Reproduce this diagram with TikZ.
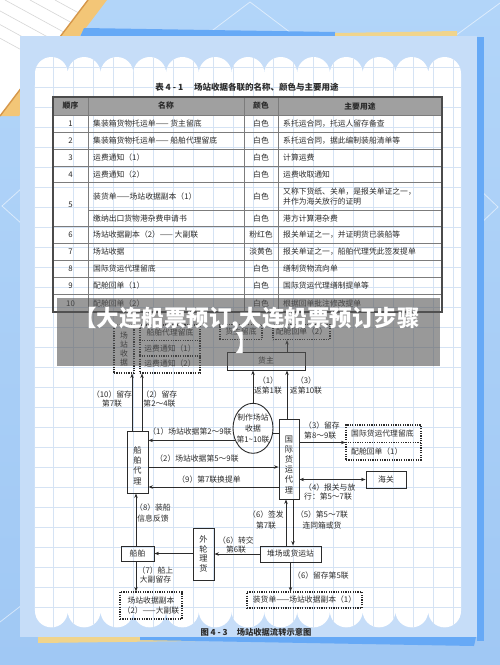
\documentclass[tikz,border=0pt]{standalone}
\usepackage{fontspec}
\setmainfont{Noto Sans CJK SC}
\usetikzlibrary{arrows.meta,shapes.geometric}
\definecolor{bgA}{HTML}{B2D5F9}
\definecolor{bgB}{HTML}{A0C8F4}
\definecolor{panelc}{HTML}{C6DDF8}
\definecolor{edgeblue}{HTML}{66A9F6}
\definecolor{orangeA}{HTML}{F3C677}
\definecolor{orangeB}{HTML}{D6974A}
\definecolor{sandy}{HTML}{F0D48C}
\definecolor{gridc}{HTML}{D5E3F4}
\definecolor{ink}{HTML}{2B2B2B}
\definecolor{rulec}{HTML}{7C7C7C}
\definecolor{headg}{HTML}{A0A0A0}
\definecolor{bannerc}{HTML}{555555}
\tikzset{
  tt/.style={inner sep=0pt, text=ink, font=\fontsize{7.8}{10}\selectfont},
  th/.style={inner sep=0pt, text=ink, font=\fontsize{7.8}{10}\selectfont\bfseries},
  lab/.style={inner sep=0pt, text=ink, align=center, font=\fontsize{7.8}{#1}\selectfont},
  lab/.default=10,
  sbox/.style={draw=ink, line width=0.9pt, inner sep=0pt, text=ink, align=center, font=\fontsize{7.8}{10}\selectfont},
  dbox/.style={draw=ink, line width=1.1pt, dash pattern=on 1.2pt off 1.2pt, inner sep=0pt, text=ink, align=center, font=\fontsize{7.8}{10}\selectfont},
  dline/.style={draw=ink, line width=1.1pt, dash pattern=on 1.2pt off 1.2pt},
  arr/.style={draw=ink, line width=0.75pt, -{Stealth[length=4.5pt,width=3.4pt]}},
  darr/.style={draw=ink, line width=0.75pt, {Stealth[length=4.5pt,width=3.4pt]}-{Stealth[length=4.5pt,width=3.4pt]}},
  conn/.style={draw=ink, line width=0.75pt},
  faint/.style={draw=white, opacity=0.55, line width=0.8pt},
}
\begin{document}
\begin{tikzpicture}[x=1pt,y=-1pt]
\useasboundingbox (0,0) rectangle (500,665);
% ---------- page background ----------
\shade[top color=bgA, bottom color=bgB] (0,0) rectangle (500,665);
\draw[faint] (205,36) -- (250,2) -- (295,36);
\draw[faint] (455,36) -- (500,3);
\draw[faint] (22,188) -- (2,206) -- (22,224);
\draw[faint] (478,188) -- (498,207) -- (478,226);
\draw[faint] (0,622) -- (22,605);
\fill[white] (0,0) -- (88,0) -- (0,116) -- cycle;
\begin{scope}
  \clip (0,0) -- (88,0) -- (0,116) -- cycle;
  \foreach \s in {-70,-45,...,60} \draw[black!16, line width=0.6pt] (\s,0) -- ++(130,71);
\end{scope}
\fill[orangeA] (88,0) -- (107,0) -- (19,116) -- (0,116) -- cycle;
\draw[orangeB, line width=1.4pt] (88,0) -- (0,116);
\fill[edgeblue] (84,28) -- (335,32) -- (335,37) -- (80,37) -- cycle;
\fill[sandy] (335,33) -- (457,31) -- (457,37) -- (335,37) -- cycle;
% ---------- panel ----------
\fill[panelc] (20,36) rectangle (477,637);
\fill[edgeblue] (477,37) rectangle (484,641);
\fill[sandy] (38,637) -- (235,637) -- (235,640.5) -- (38,643) -- cycle;
\fill[edgeblue] (140,637) -- (476,637) -- (474,646) -- (140,640) -- cycle;
% ---------- scalloped white sheet ----------
\fill[white] (35,73.4) foreach \i in {1,...,13} {arc[start angle=180,end angle=360,radius=16.385]}
  -- (461,611) foreach \i in {1,...,13} {arc[start angle=0,end angle=180,radius=16.385]} -- cycle;
\begin{scope}
  \clip (35,73.4) foreach \i in {1,...,13} {arc[start angle=180,end angle=360,radius=16.385]}
    -- (461,611) foreach \i in {1,...,13} {arc[start angle=0,end angle=180,radius=16.385]} -- cycle;
  \foreach \x in {33,53,...,453} \draw[gridc, line width=0.7pt] (\x,50) -- (\x,630);
  \foreach \y in {67,87,...,627} \draw[gridc, line width=0.7pt] (30,\y) -- (466,\y);
\end{scope}
% ---------- table ----------
\node[inner sep=0pt, text=ink, font=\fontsize{8.5}{10}\selectfont\bfseries] (tabtitle) at (247,87) {表 4 - 1\hspace{11pt}场站收据各联的名称、颜色与主要用途};
\fill[headg] (53,97) rectangle (442,115);
\foreach \y in {115,132,149,166.7,182.5,226.7,243.3,260,277.3,294.3}
  \draw[rulec, line width=0.6pt] (53,\y) -- (442,\y);
\draw[rulec, line width=0.6pt] (88,210.7) -- (442,210.7);
\foreach \x in {88,244,278} \draw[rulec, line width=0.6pt] (\x,97) -- (\x,312);
\draw[ink!85, line width=1.1pt] (53,97) rectangle (442,312);
\node[th] (h1) at (70.5,106) {顺序};
\node[th] (h2) at (166,106) {名称};
\node[th] (h3) at (261,106) {颜色};
\node[th] (h4) at (360,106) {主要用途};
\foreach \n/\y/\a/\c/\u [count=\k] in {
  1/123.3/{集装箱货物托运单—— 货主留底}/白色/{系托运合同，托运人留存备查},
  2/140.3/{集装箱货物托运单—— 船舶代理留底}/白色/{系托运合同，据此编制装船清单等},
  3/157.8/{运费通知（1）}/白色/{计算运费},
  4/174.8/{运费通知（2）}/白色/{运费收取通知},
  6/235/{场站收据副本（2）—— 大副联}/粉红色/{报关单证之一，并证明货已装船等},
  7/251.7/{场站收据}/淡黄色/{报关单证之一，船舶代理凭此签发提单},
  8/268.8/{国际货运代理留底}/白色/{缮制货物流向单},
  9/286/{配舱回单（1）}/白色/{国际货运代理缮制提单等},
  10/303.3/{配舱回单（2）}/白色/{根据回单批注修改提单}} {
  \node[tt] (num\k) at (70.5,\y) {\n};
  \node[tt, anchor=west] (nam\k) at (93,\y) {\a};
  \node[tt] (col\k) at (261,\y) {\c};
  \node[tt, anchor=west] (use\k) at (283,\y) {\u};
}
\node[tt] (num5) at (70.5,205) {5};
\node[tt, anchor=west] (nam5a) at (93,196.6) {装货单——场站收据副本（1）};
\node[tt] (col5a) at (261,196.6) {白色};
\node[tt, anchor=west, align=left] (use5a) at (283,196.6) {又称下货纸、关单，是报关单证之一，\\并作为海关放行的证明};
\node[tt, anchor=west] (nam5b) at (93,218.6) {缴纳出口货物港杂费申请书};
\node[tt] (col5b) at (261,218.6) {白色};
\node[tt, anchor=west] (use5b) at (283,218.6) {港方计算港杂费};
% ---------- flow chart ----------
\node[dbox, minimum width=20pt, minimum height=48pt, font=\fontsize{7.8}{9}\selectfont] (csv) at (124,349) {场\\站\\收\\据};
\node[dbox, minimum width=60pt, minimum height=48pt] (stk) at (170,349) {};
\draw[dline] (stk.west |- 0,340.5) -- (stk.east |- 0,340.5);
\draw[dline] (stk.west |- 0,356) -- (stk.east |- 0,356);
\node[lab] (stk1) at (170,332.5) {船舶代理留底};
\node[lab] (stk2) at (170,348.3) {运费通知（1）};
\node[lab] (stk3) at (170,363.8) {运费通知（2）};
\node[dbox, minimum width=42pt, minimum height=15pt] (hzld) at (241,332) {货主留底};
\node[dbox, minimum width=57pt, minimum height=15pt] (pc2) at (301.5,332) {配舱回单（2）};
\node[sbox, minimum width=78pt, minimum height=18pt] (hz) at (266,361) {货主};

\node[draw=ink, line width=0.9pt, ellipse, minimum width=40pt, minimum height=50pt, inner sep=0pt] (ell) at (253,428.3) {};
\node[lab=11, font=\fontsize{7.8}{11}\selectfont] (ellt) at (ell.center) {制作场站\\收据\\第1\textasciitilde10联};

\node[sbox, minimum width=21pt, minimum height=62pt] (cb) at (137.5,462) {};
\node[lab=10.3, font=\fontsize{8.2}{10.3}\selectfont] (cbt) at (137.5,465.5) {船\\舶\\代\\理};
\node[sbox, minimum width=20pt, minimum height=80pt] (gj) at (289,459) {};
\node[lab=10.2, font=\fontsize{8.2}{10.2}\selectfont] (gjt) at (289,464.5) {国\\际\\货\\运\\代\\理};
\node[dbox, minimum width=75pt, minimum height=35pt] (gjld) at (383.5,442.5) {};
\draw[dline] (gjld.west) -- (gjld.east);
\node[lab, anchor=west] (gjld1) at (351,434) {国际货运代理留底};
\node[lab, anchor=west] (gjld2) at (351,451.5) {配舱回单（1）};
\node[sbox, minimum width=40pt, minimum height=17pt] (hg) at (386,479.5) {海关};
\node[sbox, minimum width=61pt, minimum height=16pt] (dc) at (290.5,554) {堆场或货运站};
\node[sbox, minimum width=21pt, minimum height=52pt, font=\fontsize{8.2}{9.5}\selectfont] (wl) at (203.5,554) {外\\轮\\理\\货};
\node[sbox, minimum width=33pt, minimum height=15pt] (cbs) at (137.5,553.5) {船舶};
\node[dbox, minimum width=62pt, minimum height=27pt, font=\fontsize{7.8}{10}\selectfont] (dfl) at (151,605.5) {场站收据副本\\（2）——大副联};
\node[dbox, minimum width=115pt, minimum height=16pt] (zhd) at (304.5,600) {装货单——场站收据副本（1）};

% connectors
\draw[arr] (cb.north -| 132,0) -- (csv.south -| 132,0);
\draw[arr] (cb.north -| 142,0) -- (stk.south -| 142,0);
\draw[arr] (ell.north) -- (ell.north |- hz.south);
\draw[arr] (gj.north -| 287,0) -- (hz.south -| 287,0);
\draw[arr] (hz.north -| 287,0) -- (pc2.south -| 287,0);
\draw[conn] (gj.west |- ell.346) -- (ell.346);
\draw[arr] (ell.214) -- (cb.east |- ell.214);
\draw[arr] (cb.east |- 0,467) -- (gj.west |- 0,467);
\draw[arr] (gj.west |- 0,487) -- (cb.east |- 0,487);
\draw[arr] (gj.east |- gjld.west) -- (gjld.west);
\draw[darr] (gj.east |- hg.west) -- (hg.west);
\draw[arr] (dc.north -| 286,0) -- (gj.south -| 286,0);
\draw[arr] (gj.south -| 293,0) -- (dc.north -| 293,0);
\draw[arr] (dc.west) -- (wl.east |- dc.west);
\draw[arr] (wl.west |- cbs.east) -- (cbs.east);
\draw[arr] (cbs.north -| 136,0) -- (cb.south -| 136,0);
\draw[arr] (cbs.south -| 136,0) -- (dfl.north -| 136,0);
\draw[arr] (dc.south) -- (zhd.north -| dc.south);

% labels
\node[lab=9] (l10) at (112,399) {（10）留存\\第7联};
\node[lab=9] (l2) at (159.5,399) {（2）留存\\第2～4联};
\node[lab] (lr1) at (268,385) {（1）\\返第1联};
\node[lab] (lr3) at (306,385) {（3）\\返第10联};
\node[lab] (la1) at (190,432) {（1）场站收据第2～9联};
\node[lab] (la2) at (197,459) {（2）场站收据第5～9联};
\node[lab] (la9) at (209,480) {（9）第7联换提单};
\node[lab=9.5, anchor=west, align=left] (la3) at (304,430.5) {（3）留存\\第8～9联};
\node[lab=9, anchor=west, align=left] (la4) at (304,491.5) {（4）报关与放\\行：第5～7联};
\node[lab=11] (la6a) at (266,519.5) {（6）签发\\第7联};
\node[lab=11] (la5) at (322,519.5) {（5）第5～7联\\连同箱或货};
\node[lab=9] (la6b) at (236,544.5) {（6）转交\\第6联};
\node[lab=11] (la8) at (153,512.5) {（8）装船\\信息反馈};
\node[lab=9] (la7) at (155.5,574.5) {（7）船上\\大副留存};
\node[lab, anchor=west] (la6c) at (293,576) {（6）留存第5联};

% caption
\node[inner sep=0pt, text=ink, font=\fontsize{8.3}{10}\selectfont\bfseries] (cap) at (256,632) {图 4 - 3\hspace{9pt}场站收据流转示意图};

% ---------- banner overlay ----------
\fill[bannerc, opacity=0.6] (57,298) rectangle (440,366);
\node[inner sep=0pt, text=white, align=center, font=\fontsize{22.5}{25}\selectfont\bfseries] (banner) at (247,330.5) {【大连船票预订,大连船票预订步骤\\】};
\end{tikzpicture}
\end{document}
